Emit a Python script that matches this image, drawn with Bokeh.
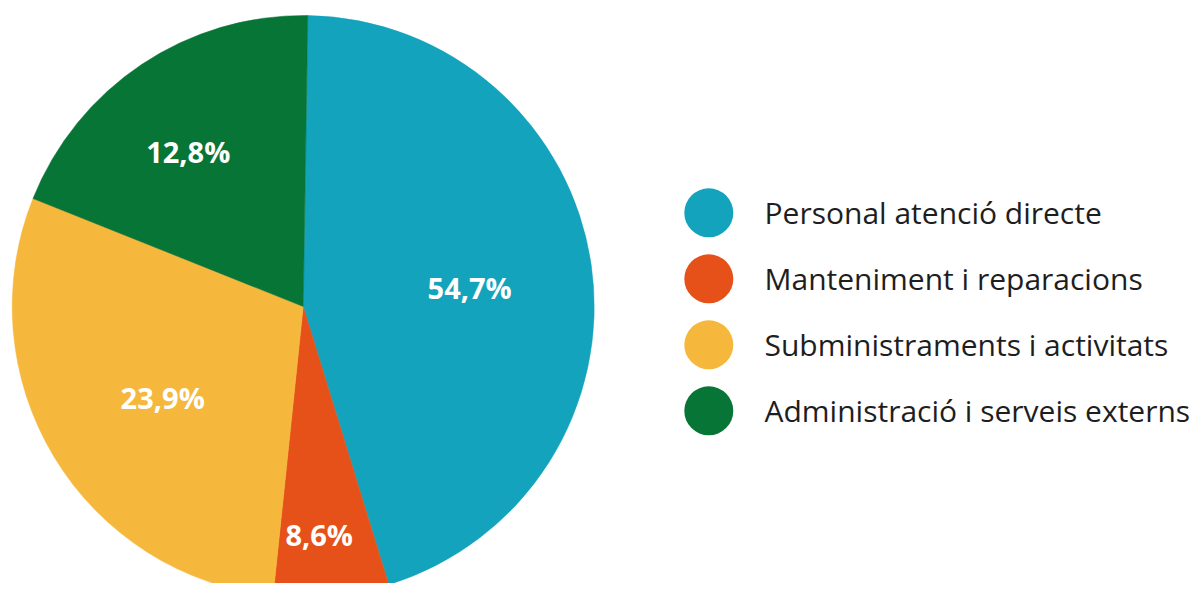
import numpy as np
from bokeh.plotting import figure
from bokeh.models import Range1d, ColumnDataSource
from bokeh.core.properties import value
from bokeh.embed import file_html
from bokeh.resources import INLINE

# Data
categories = ["Personal atenció directe", "Manteniment i reparacions",
              "Subministraments i activitats", "Administració i serveis externs"]
# shares as drawn in the picture (slice angles, percent of the circle)
shares = [45.0, 6.4, 29.4, 19.2]
labels = ["54,7%", "8,6%", "23,9%", "12,8%"]
colors = ["#13A3BC", "#E55118", "#F6B83C", "#077536"]

# Layout / style
W, H = 1190, 583
TOP = 591.0  # data y of the top edge of the plot (data y = 591 - pixel y)
cx, cy, R = 302.7, TOP - 306.0, 291.0
start_deg = 89.1
label_r = [0.575, 0.792, 0.58, 0.657]
label_da = [-2.2, -1.6, 2.5, 3.3]  # small angular nudges (degrees)

p = figure(width=W, height=H, output_backend="svg", toolbar_location=None,
           x_range=Range1d(0, W), y_range=Range1d(TOP - H, TOP),
           min_border=0, outline_line_color=None)
p.axis.visible = False
p.grid.visible = False
p.background_fill_color = "white"

sh = np.array(shares, dtype=float)
frac = sh / sh.sum()
cum = np.concatenate([[0], np.cumsum(frac)])
top = np.radians(start_deg) - 2 * np.pi * cum[:-1]
bot = np.radians(start_deg) - 2 * np.pi * cum[1:]
mid = (top + bot) / 2 + np.radians(label_da)

src = ColumnDataSource(dict(start=bot, end=top, color=colors))
p.wedge(x=cx, y=cy, radius=R, start_angle="start", end_angle="end",
        direction="anticlock", fill_color="color", line_color="color",
        line_width=0.5, source=src)

lr = np.array(label_r) * R
lsrc = ColumnDataSource(dict(x=cx + lr * np.cos(mid), y=cy + lr * np.sin(mid), t=labels))
p.text(x="x", y="y", text="t", source=lsrc, text_color="white",
       text_font=value("Open Sans"), text_font_style="bold", text_font_size="29px",
       text_align="center", text_baseline="middle", y_offset=-2)

# Legend
leg_x = 708.3
leg_y0 = TOP - 212.3
leg_dy = 66.0
ly = [leg_y0 - i * leg_dy for i in range(len(categories))]
gsrc = ColumnDataSource(dict(x=[leg_x] * len(categories), y=ly, c=colors,
                             tx=[764.0] * len(categories), t=categories))
p.scatter(x="x", y="y", size=49, marker="circle", fill_color="c", line_color=None, source=gsrc)
p.text(x="tx", y="y", text="t", source=gsrc, text_color="#1e1e1e",
       text_font=value("Open Sans"), text_font_size="30px",
       text_align="left", text_baseline="middle")

open("out.html", "w").write(file_html(p, INLINE))
